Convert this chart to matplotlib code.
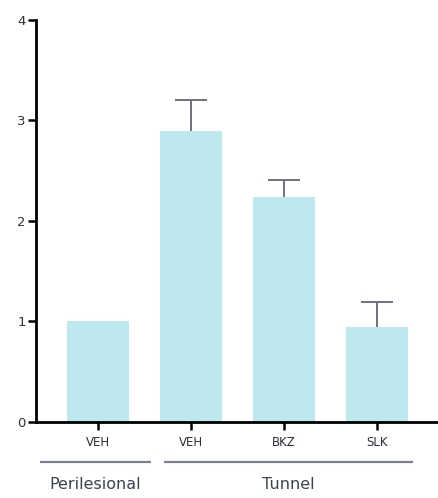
import matplotlib
matplotlib.use("Agg")
import matplotlib.pyplot as plt
import matplotlib.transforms as mtransforms

# Data
categories = ["VEH", "VEH", "BKZ", "SLK"]
values = [1.0, 2.89, 2.23, 0.944]
errors_up = [0.0, 0.305, 0.17, 0.243]
groups = ["Perilesional", "Tunnel"]
group_spans = [(-0.624, 0.57), (0.71, 3.387)]
yticks = [0, 1, 2, 3, 4]

bar_color = "#bde8ee"
err_color = "#6c7182"
group_line_color = "#7a8092"
group_text_color = "#3b4256"

fig = plt.figure(figsize=(4.38, 4.98), dpi=100)
ax = fig.add_axes([0.0822, 0.1532, 0.9178, 0.8076])

x = list(range(len(categories)))
ax.bar(x, values, width=0.667, color=bar_color, zorder=2)

# One-sided (upward) error bars with caps
cap_half = 0.167
for xi, v, e in zip(x, values, errors_up):
    if e <= 0:
        continue
    ax.vlines(xi, v, v + e, color=err_color, lw=1.4, zorder=3)
    ax.hlines(v + e, xi - cap_half, xi + cap_half, color=err_color, lw=1.4, zorder=3)

ax.set_xlim(-0.667, 3.656)
ax.set_ylim(0, 4)
ax.set_yticks(yticks)
ax.set_yticklabels([str(t) for t in yticks], fontsize=9.5, color="#333333")
ax.set_xticks(x)
ax.set_xticklabels(categories, fontsize=8.5, color="#2a2f3d")

for side in ("top", "right"):
    ax.spines[side].set_visible(False)
for side in ("left", "bottom"):
    ax.spines[side].set_linewidth(2)
    ax.spines[side].set_color("black")
ax.tick_params(axis="y", length=6, width=1.8, pad=1.5)
ax.tick_params(axis="x", length=5.5, width=1.8, pad=5)

# Group brackets below the category labels
trans = mtransforms.blended_transform_factory(ax.transData, fig.transFigure)
line_y = 1 - 461.5 / 498
text_y = 1 - 484 / 498
for name, (x0, x1) in zip(groups, group_spans):
    ax.plot([x0, x1], [line_y, line_y], transform=trans, color=group_line_color,
            lw=1.6, clip_on=False, solid_capstyle="butt")
    ax.text((x0 + x1) / 2, text_y, name, transform=trans, ha="center", va="center",
            fontsize=11.5, color=group_text_color)

fig.savefig("out.png", dpi=100)
